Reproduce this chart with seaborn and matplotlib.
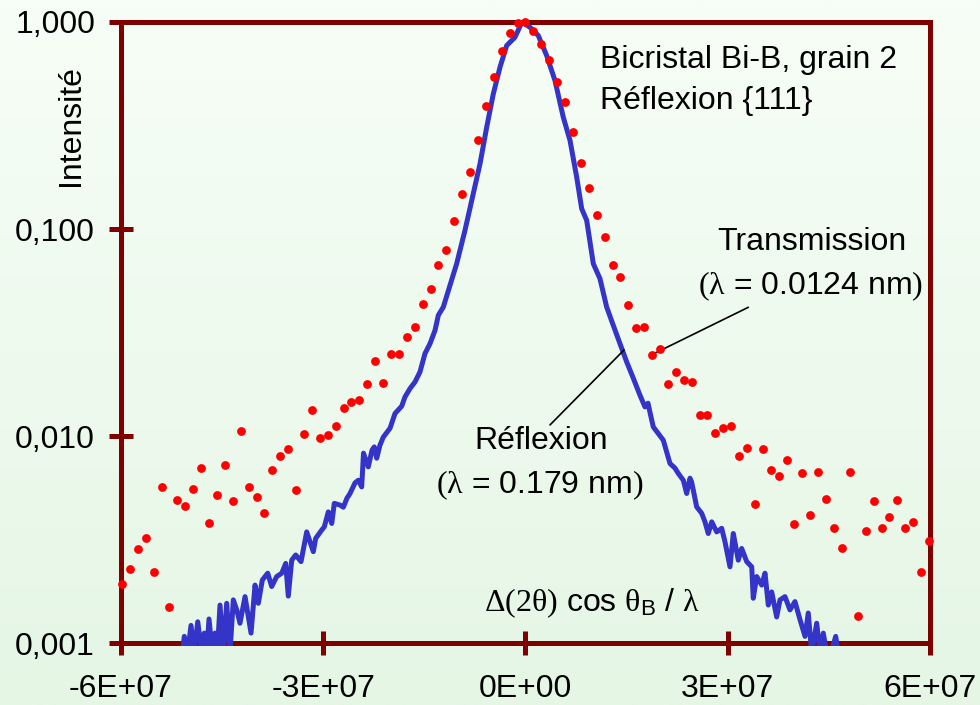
import numpy as np
import pandas as pd
import matplotlib
matplotlib.use("Agg")
import matplotlib.pyplot as plt
import seaborn as sns
from matplotlib.colors import LinearSegmentedColormap
from matplotlib.patches import Rectangle
from matplotlib.ticker import FixedLocator, FixedFormatter, NullLocator

# Positions are given in units of 1e6 (Delta(2theta) cos(theta_B) / lambda)
UNIT = 1e6

# Transmission profile (lambda = 0.0124 nm), normalised intensity
trans_x = [
    -59.80, -58.63, -57.46, -56.28, -55.11, -53.94, -52.77, -51.59, -50.42, -49.25,
    -48.08, -46.90, -45.73, -44.56, -43.39, -42.21, -41.04, -39.87, -38.70, -37.52,
    -36.35, -35.18, -34.01, -32.83, -31.66, -30.49, -29.32, -28.14, -26.97, -25.80,
    -24.63, -23.45, -22.28, -21.11, -19.94, -18.76, -17.59, -16.42, -15.25, -14.07,
    -12.90, -11.73, -10.56, -9.38, -8.21, -7.04, -5.87, -4.69, -3.52, -2.35,
    -1.17, 0.00, 1.17, 2.35, 3.52, 4.69, 5.87, 7.04, 8.21, 9.38,
    10.55, 11.73, 12.90, 14.07, 15.25, 16.42, 17.59, 18.76, 19.94, 21.11,
    22.28, 23.45, 24.63, 25.80, 26.97, 28.14, 29.32, 30.49, 31.66, 32.83,
    34.01, 35.18, 36.35, 37.52, 38.70, 39.87, 41.04, 42.21, 43.39, 44.56,
    45.73, 46.90, 48.08, 49.25, 50.42, 51.59, 52.77, 53.94, 55.11, 56.28,
    57.46, 58.63, 59.80,
]
trans_i = [
    0.00193, 0.00228, 0.00284, 0.00321, 0.00220, 0.00566, 0.00150, 0.00490, 0.00461, 0.00557,
    0.00703, 0.00383, 0.00518, 0.00727, 0.00484, 0.01054, 0.00566, 0.00510, 0.00425, 0.00686,
    0.00801, 0.00863, 0.00551, 0.01026, 0.01339, 0.00975, 0.01011, 0.01114, 0.01365, 0.01470,
    0.01496, 0.01796, 0.02309, 0.01815, 0.02506, 0.02506, 0.03013, 0.03367, 0.04366, 0.05160,
    0.06681, 0.07956, 0.1098, 0.1482, 0.1877, 0.2679, 0.3921, 0.5435, 0.7254, 0.889,
    0.993, 1.000, 0.909, 0.784, 0.6534, 0.514, 0.4117, 0.2951, 0.2091, 0.1572,
    0.1168, 0.0915, 0.06681, 0.05893, 0.04318, 0.03330, 0.03367, 0.02478, 0.02629, 0.01782,
    0.02052, 0.01863, 0.01836, 0.01263, 0.01267, 0.01037, 0.01093, 0.01114, 0.00804, 0.00873,
    0.00470, 0.00863, 0.00683, 0.00639, 0.00766, 0.00377, 0.00665, 0.00417, 0.00673, 0.00495,
    0.00361, 0.00290, 0.00673, 0.00136, 0.00348, 0.00484, 0.00361, 0.00405, 0.00490, 0.00361,
    0.00385, 0.00221, 0.00313,
]

# Reflection profile (lambda = 0.179 nm), normalised intensity
refl_x = [
    -50.87, -50.57, -50.07, -49.58, -49.13, -48.58, -47.99, -47.61, -47.25, -46.91,
    -46.42, -46.02, -45.68, -45.28, -44.79, -44.29, -43.80, -43.31, -42.80, -42.32,
    -41.57, -40.68, -40.09, -39.60, -39.01, -38.21, -37.62, -36.88, -36.13, -35.54,
    -35.16, -34.65, -34.06, -33.27, -32.43, -31.45, -31.10, -30.21, -29.82, -29.23,
    -28.72, -28.34, -27.49, -27.00, -26.46, -26.01, -25.27, -24.78, -24.28, -24.01,
    -23.30, -22.75, -22.41, -22.05, -21.57, -21.08, -20.08, -19.34, -18.35, -17.86,
    -17.12, -16.38, -15.64, -14.90, -14.15, -13.41, -12.92, -12.18, -11.19, -10.20,
    -8.97, -7.74, -6.74, -5.75, -4.77, -3.78, -2.79, -1.56, -0.52, 0.67,
    1.90, 3.14, 4.37, 5.60, 6.60, 7.59, 8.33, 9.07, 10.05, 11.04,
    12.03, 13.01, 14.01, 15.00, 15.98, 16.97, 17.71, 18.16, 18.45, 18.94,
    19.68, 20.42, 21.42, 22.16, 22.65, 23.39, 23.89, 24.38, 24.63, 25.37,
    26.12, 26.60, 27.09, 27.60, 28.34, 29.08, 29.57, 30.31, 30.80, 31.54,
    32.04, 32.79, 33.53, 33.76, 34.27, 35.01, 35.50, 35.99, 36.49, 37.23,
    37.72, 38.46, 39.20, 39.94, 40.69, 41.43, 41.91, 42.42, 43.16, 43.65,
    44.14, 44.64, 45.28, 45.98, 46.36,
]
refl_i = [
    0.0009, 0.00108, 0.0009, 0.00122, 0.0009, 0.00127, 0.0009, 0.00112, 0.0009, 0.00131,
    0.0009, 0.00112, 0.0009, 0.00153, 0.0009, 0.00156, 0.0009, 0.00162, 0.00145, 0.00125,
    0.00168, 0.00112, 0.00191, 0.00156, 0.00202, 0.00218, 0.00188, 0.00210, 0.00218, 0.00243,
    0.00169, 0.00252, 0.00267, 0.00248, 0.00345, 0.00277, 0.00321, 0.00352, 0.00365, 0.00431,
    0.00379, 0.00474, 0.00465, 0.00454, 0.00502, 0.00529, 0.00595, 0.00613, 0.00569, 0.00828,
    0.00711, 0.00856, 0.00888, 0.00783, 0.00905, 0.00989, 0.01093, 0.01287, 0.01396, 0.01547,
    0.01699, 0.01827, 0.02043, 0.02506, 0.02800, 0.03245, 0.03835, 0.04205, 0.05352, 0.06809,
    0.0986, 0.1482, 0.2068, 0.3105, 0.4499, 0.6046, 0.7695, 0.8438, 1.000, 0.9428,
    0.8597, 0.6884, 0.5217, 0.3470, 0.2679, 0.1781, 0.1254, 0.1102, 0.06809, 0.05763,
    0.04205, 0.03431, 0.02800, 0.02283, 0.01905, 0.01577, 0.01385, 0.01443, 0.01305, 0.01109,
    0.01030, 0.00957, 0.00738, 0.00701, 0.00661, 0.00613, 0.00529, 0.00627, 0.00600, 0.00456,
    0.00424, 0.00386, 0.00339, 0.00386, 0.00345, 0.00359, 0.00309, 0.00234, 0.00339, 0.00252,
    0.00287, 0.00248, 0.00234, 0.00165, 0.00210, 0.00191, 0.00218, 0.00153, 0.00177, 0.00134,
    0.00162, 0.00168, 0.00145, 0.00159, 0.00130, 0.00108, 0.00140, 0.0009, 0.00125, 0.0009,
    0.00112, 0.0009, 0.0009, 0.00108, 0.0009,
]

x_ticks = [-6e7, -3e7, 0.0, 3e7, 6e7]
x_tick_labels = ["-6E+07", "-3E+07", "0E+00", "3E+07", "6E+07"]
y_ticks = [0.001, 0.01, 0.1, 1.0]
y_tick_labels = ["0,001", "0,010", "0,100", "1,000"]

# index of the transmission point the leader line points to
trans_label_idx = 67

AXIS_RED = "#800000"
DOT_RED = "#ff0000"
LINE_BLUE = "#3434c8"

sns.set_theme(style="white")
plt.rcParams["font.family"] = ["Liberation Sans", "DejaVu Sans"]
plt.rcParams["mathtext.fontset"] = "custom"
plt.rcParams["mathtext.rm"] = "Liberation Serif"
plt.rcParams["mathtext.it"] = "Liberation Serif:italic"
plt.rcParams["mathtext.sf"] = "Liberation Sans"

trans = pd.DataFrame({"x": np.array(trans_x) * UNIT, "I": trans_i})
refl = pd.DataFrame({"x": np.array(refl_x) * UNIT, "I": refl_i})

fig = plt.figure(figsize=(9.8, 7.05), dpi=100)

# soft vertical gradient behind everything
bg = fig.add_axes([0, 0, 1, 1], zorder=-10)
grad = LinearSegmentedColormap.from_list("bg", ["#f7fef7", "#e5f6e5"])
bg.imshow(np.linspace(0, 1, 256).reshape(-1, 1), cmap=grad, aspect="auto",
          extent=[0, 1, 0, 1])
bg.set_axis_off()

ax = fig.add_axes([0.12316, 0.08752, 0.82612, 0.88128])
ax.set_facecolor("none")
ax.set_yscale("log")
ax.set_xlim(-6e7, 6e7)
ax.set_ylim(0.001, 1.0)

sns.lineplot(data=refl, x="x", y="I", ax=ax, color=LINE_BLUE, linewidth=3.6,
             estimator=None, sort=False, zorder=3)
# let the noisy tail cover the lower frame line instead of stopping at its centre
clip = Rectangle((0, -0.004), 1, 1.008, transform=ax.transAxes,
                 facecolor="none", edgecolor="none")
for ln in ax.lines:
    ln.set_clip_path(clip)

sns.scatterplot(data=trans, x="x", y="I", ax=ax, color=DOT_RED, s=40,
                linewidth=0, zorder=4, clip_on=False)

for sp in ax.spines.values():
    sp.set_visible(True)
    sp.set_color(AXIS_RED)
    sp.set_linewidth(3.6)

ax.xaxis.set_major_locator(FixedLocator(x_ticks))
ax.xaxis.set_major_formatter(FixedFormatter(x_tick_labels))
ax.yaxis.set_major_locator(FixedLocator(y_ticks))
ax.yaxis.set_major_formatter(FixedFormatter(y_tick_labels))
ax.yaxis.set_minor_locator(NullLocator())
ax.xaxis.set_minor_locator(NullLocator())
ax.tick_params(axis="both", which="major", direction="inout", length=17,
               width=3.6, color=AXIS_RED, labelsize=23, labelcolor="black",
               bottom=True, left=True, top=False, right=False)
ax.tick_params(axis="y", pad=10)
ax.tick_params(axis="x", pad=13.5)

ax.set_ylabel("Intensité", fontsize=23, color="black")
ax.yaxis.set_label_coords(-0.0614, 0.834)
ax.yaxis.label.set_va("center")
ax.set_xlabel(r"$\mathrm{\Delta(2\theta)}$ cos $\mathrm{\theta}_{\mathsf{B}}$ / $\mathrm{\lambda}$",
              fontsize=23, color="black")
ax.xaxis.set_label_coords(0.582, 0.065)
ax.xaxis.label.set_va("center")

txt = dict(transform=ax.transAxes, fontsize=23, color="black")
ax.text(0.592, 0.9388, "Bicristal Bi-B, grain 2", ha="left", va="center", **txt)
ax.text(0.592, 0.8728, "Réflexion {111}", ha="left", va="center", **txt)
ax.text(0.8535, 0.6467, "Transmission", ha="center", va="center", **txt)
ax.text(0.8524, 0.5740, r"$\mathrm{(\lambda}$ = 0.0124 nm$\mathrm{)}$",
        ha="center", va="center", **txt)
ax.text(0.5189, 0.3248, "Réflexion", ha="center", va="center", **txt)
ax.text(0.5179, 0.2548, r"$\mathrm{(\lambda}$ = 0.179 nm$\mathrm{)}$",
        ha="center", va="center", **txt)

leader = dict(arrowstyle="-", color="black", lw=1.2, shrinkA=0, shrinkB=0)
ax.annotate("", xy=(trans["x"][trans_label_idx], trans["I"][trans_label_idx]),
            xycoords="data", xytext=(0.7752, 0.5408), textcoords="axes fraction",
            arrowprops=leader)
ax.annotate("", xy=(0.6217, 0.4721), xycoords="axes fraction",
            xytext=(0.5303, 0.3515), textcoords="axes fraction",
            arrowprops=leader)

fig.savefig("out.png", dpi=100)
